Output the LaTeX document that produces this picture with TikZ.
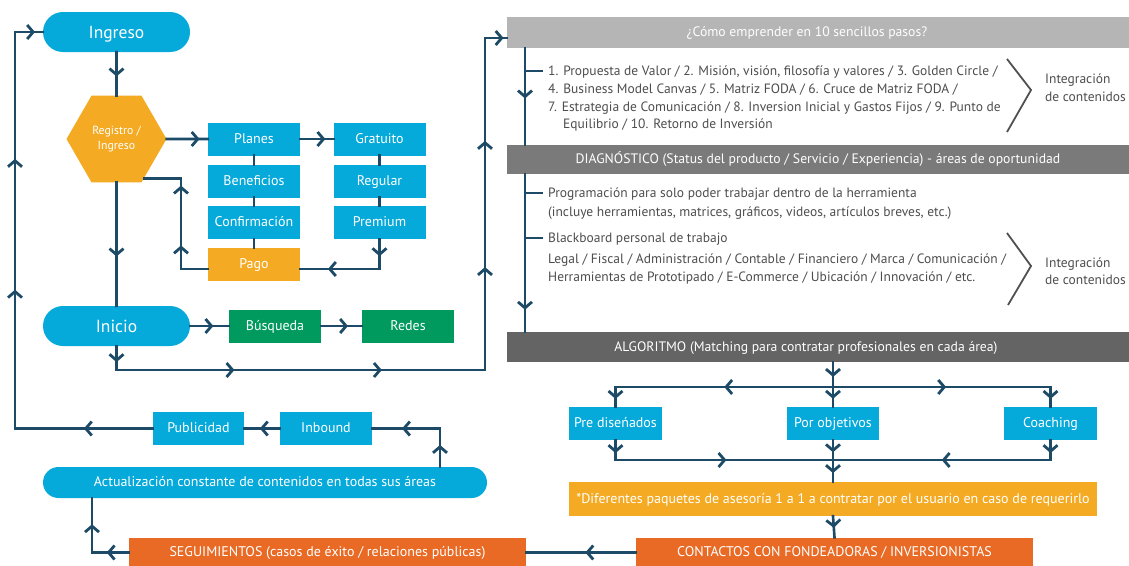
\documentclass[tikz,border=0pt]{standalone}
\usepackage{fontspec}
\setmainfont{PT Sans}
\usetikzlibrary{arrows.meta,decorations.markings,shapes.geometric,calc}
\definecolor{cblue}{HTML}{05A9DA}
\definecolor{cyel}{HTML}{F4AA22}
\definecolor{cgreen}{HTML}{009A5F}
\definecolor{corange}{HTML}{E86A24}
\definecolor{cline}{HTML}{1D4A66}
\definecolor{gray1}{HTML}{B5B5B5}
\definecolor{gray2}{HTML}{7A7A7A}
\definecolor{gray3}{HTML}{646464}
\definecolor{ctext}{HTML}{4D4D4D}
\definecolor{cbrk}{HTML}{505050}
\tikzset{
 conn/.style={draw=cline, line width=2.6pt, line cap=rect},
 tickln/.style={draw=cline, line width=2pt},
 am/.style={postaction={decorate,decoration={markings,mark=at position #1 with {\arrow{Straight Barb[length=6pt,width=14pt,line width=2.8pt]}}}}},
 am/.default=0.5,
 bx/.style={fill=cblue, text=white, minimum width=92pt, minimum height=33pt, inner sep=0pt, text height=9pt, text depth=0.5pt, font=\fontsize{14}{16}\selectfont},
 pill/.style={fill=cblue, text=white, inner sep=0pt, rounded corners=#1},
 hexa/.style={regular polygon, regular polygon sides=6, minimum size=100pt, inner sep=0pt, fill=cyel, text=white, align=center, font=\fontsize{11.8}{15}\selectfont},
 hdr/.style={minimum width=622pt, inner sep=0pt, text=white, text height=9pt, text depth=0.5pt, font=\fontsize{13.7}{16}\selectfont},
 body/.style={text=ctext, inner sep=0pt, anchor=base west, font=\fontsize{13.5}{16}\selectfont},
 brk/.style={draw=cbrk, line width=1.8pt},
}
\begin{document}
\begin{tikzpicture}[x=1pt,y=-1pt]
\useasboundingbox (0,0) rectangle (1129,565);
% ---- nodes left
\node[pill=20pt, minimum width=147pt, minimum height=40pt, text height=12pt, text depth=0pt, font=\fontsize{17.5}{20}\selectfont] (ingreso) at (116.5,32) {Ingreso};
\node[hexa] (hex) at (116.5,139) {Registro /\\Ingreso};
\node[bx] (planes) at (254,139) {Planes};
\node[bx] (gratuito) at (379.5,139) {Gratuito};
\node[bx] (benef) at (254,181) {Beneficios};
\node[bx] (regular) at (379.5,181) {Regular};
\node[bx] (confirm) at (254,222.5) {Confirmación};
\node[bx] (premium) at (379.5,222.5) {Premium};
\node[bx, fill=cyel] (pago) at (254,264.5) {Pago};
\node[pill=20pt, minimum width=147pt, minimum height=40pt, text height=12pt, text depth=0pt, font=\fontsize{17.5}{20}\selectfont] (inicio) at (116.5,326) {Inicio};
\node[bx, fill=cgreen] (busqueda) at (275,326) {Búsqueda};
\node[bx, fill=cgreen] (redes) at (408,326) {Redes};
\node[bx, minimum width=91pt] (publi) at (198.5,428.5) {Publicidad};
\node[bx] (inbound) at (326,428.5) {Inbound};
\node[pill=15.5pt, minimum width=444pt, minimum height=31pt, text height=9pt, text depth=0.5pt, font=\fontsize{14}{16}\selectfont] (actual) at (265,482.5) {Actualización constante de contenidos en todas sus áreas};
\node[bx, fill=corange, minimum width=397pt, minimum height=30pt] (segui) at (327.5,552.5) {SEGUIMIENTOS (casos de éxito / relaciones públicas)};
% ---- nodes right
\node[hdr, fill=gray1, minimum height=31pt] (h1) at (818,32.5) {\hspace*{-22pt}¿Cómo emprender en 10 sencillos pasos?};
\node[hdr, fill=gray2, minimum height=29pt] (h2) at (818,159.5) {DIAGNÓSTICO (Status del producto / Servicio / Experiencia) - áreas de oportunidad};
\node[hdr, fill=gray3, minimum height=30pt] (h3) at (818,347) {\hspace*{-24pt}ALGORITMO (Matching para contratar profesionales en cada área)};
\node[bx, minimum width=93pt] (pre) at (615.5,423.5) {Pre diseńados};
\node[bx] (por) at (833,423.5) {Por objetivos};
\node[bx, minimum width=93pt] (coach) at (1050.5,423.5) {Coaching};
\node[bx, fill=cyel, minimum width=528pt, minimum height=34pt] (dif) at (833,499) {*Diferentes paquetes de asesoría 1 a 1 a contratar por el usuario en caso de requerirlo};
\node[bx, fill=corange, minimum width=397pt, minimum height=30pt] (contactos) at (834.5,552.5) {CONTACTOS CON FONDEADORAS / INVERSIONISTAS};
% ---- body texts
\node[body] (t1) at (548,75.5) {1. Propuesta de Valor / 2. Misión, visión, filosofía y valores / 3. Golden Circle /};
\node[body] (t2) at (548,93.5) {4. Business Model Canvas / 5. Matriz FODA / 6. Cruce de Matriz FODA /};
\node[body] (t3) at (548,111.5) {7. Estrategia de Comunicación / 8. Inversion Inicial y Gastos Fijos / 9. Punto de};
\node[body] (t4) at (563,128.5) {Equilibrio / 10. Retorno de Inversión};
\node[body] (t5) at (548,197.5) {Programación para solo poder trabajar dentro de la herramienta};
\node[body] (t6) at (548,216.5) {(incluye herramientas, matrices, gráficos, videos, artículos breves, etc.)};
\node[body] (t7) at (548,242.5) {Blackboard personal de trabajo};
\node[body] (t8) at (548,263.5) {Legal / Fiscal / Administración / Contable / Financiero / Marca / Comunicación /};
\node[body] (t9) at (548,281.5) {Herramientas de Prototipado / E-Commerce / Ubicación / Innovación / etc.};
\node[body] (i1) at (1045,83.5) {Integración};
\node[body] (i2) at (1045,101.5) {de contenidos};
\node[body] (i3) at (1045,267.5) {Integración};
\node[body] (i4) at (1045,284.5) {de contenidos};
\draw[brk] (1007,59) -- (1031,90) -- (1007,132);
\draw[brk] (1007,233) -- (1031,266) -- (1008,305);
% ---- connectors left
\coordinate (L1) at (15,428.5);
\coordinate (L2) at (15,32);
\draw[conn, am=0.5] (publi.west) -- (L1);
\draw[conn, am=0.35, am=0.68] (L1) -- (L2);
\draw[conn, am=0.72] (L2) -- (ingreso.west);
\draw[conn, am=0.56] (ingreso.south) -- (hex.north);
\draw[conn, am=0.8] (hex.east) -- (planes.west);
\draw[conn, am=0.76] (planes.east) -- (gratuito.west);
\draw[conn] (planes.south) -- (benef.north);
\draw[conn] (benef.south) -- (confirm.north);
\draw[conn] (confirm.south) -- (pago.north);
\draw[conn] (gratuito.south) -- (regular.north);
\draw[conn] (regular.south) -- (premium.north);
\coordinate (P1) at (379.5,269);
\coordinate (P2) at (181,269);
\coordinate (P3) at (P2 |- hex.-55);
\draw[conn, am=0.57] (premium.south) -- (P1);
\draw[conn, am=0.65] (P1) -- (pago.east |- P1);
\draw[conn] (pago.west |- P1) -- (P2);
\draw[conn, am=0.26, am=0.92] (P2) -- (P3);
\draw[conn] (P3) -- (hex.-55);
\draw[conn, am=0.6] (hex.south) -- (inicio.north);
\draw[conn, am=0.6] (inicio.east) -- (busqueda.west);
\draw[conn, am=0.66] (busqueda.east) -- (redes.west);
\coordinate (I1) at (116.5,370);
\coordinate (I2) at (485,370);
\coordinate (I3) at (485,38);
\draw[conn, am=0.67] (inicio.south) -- (I1);
\draw[conn, am=0.32, am=0.72] (I1) -- (I2);
\draw[conn, am=0.31, am=0.69] (I2) -- (I3);
\draw[conn, am=0.85] (I3) -- (h1.west |- I3);
% ---- connectors right
\coordinate (R0) at (525,0);
\draw[conn, am=0.52] (h1.south -| R0) -- (h2.north -| R0);
\draw[conn, am=0.86] (h2.south -| R0) -- (h3.north -| R0);
\coordinate (k1) at (525,71);
\coordinate (k2) at (525,193);
\coordinate (k3) at (525,238);
\draw[tickln] (k1) -- ++(18,0);
\draw[tickln] (k2) -- ++(18,0);
\draw[tickln] (k3) -- ++(18,0);
\draw[conn, am=0.33, am=0.82] (h3.south -| por) -- (por.north);
\coordinate (A1) at (833,387);
\coordinate (A2) at (833,460);
\draw[conn, am=0.5] (A1) -- (A1 -| pre);
\draw[conn, am=0.6] (A1 -| pre) -- (pre.north);
\draw[conn, am=0.52] (A1) -- (A1 -| coach);
\draw[conn, am=0.6] (A1 -| coach) -- (coach.north);
\draw[conn, am=0.65] (pre.south) -- (pre.south |- A2);
\draw[conn, am=0.51] (pre.south |- A2) -- (A2);
\draw[conn, am=0.65] (coach.south) -- (coach.south |- A2);
\draw[conn, am=0.5] (coach.south |- A2) -- (A2);
\draw[conn, am=0.29, am=0.79] (por.south) -- (dif.north);
\draw[conn, am=0.55] (dif.south) -- (contactos.north);
\draw[conn, am=0.46] (contactos.west) -- (segui.east);
\coordinate (S1) at (92,552.5);
\draw[conn, am=0.6] (segui.west) -- (S1);
\draw[conn, am=0.52] (S1) -- (S1 |- actual.south);
\coordinate (U1) at (440,428.5);
\draw[conn, am=0.57] (actual.north -| U1) -- (U1);
\draw[conn, am=0.56] (U1) -- (inbound.east);
\draw[conn, am=0.56] (inbound.west) -- (publi.east);
\end{tikzpicture}
\end{document}
